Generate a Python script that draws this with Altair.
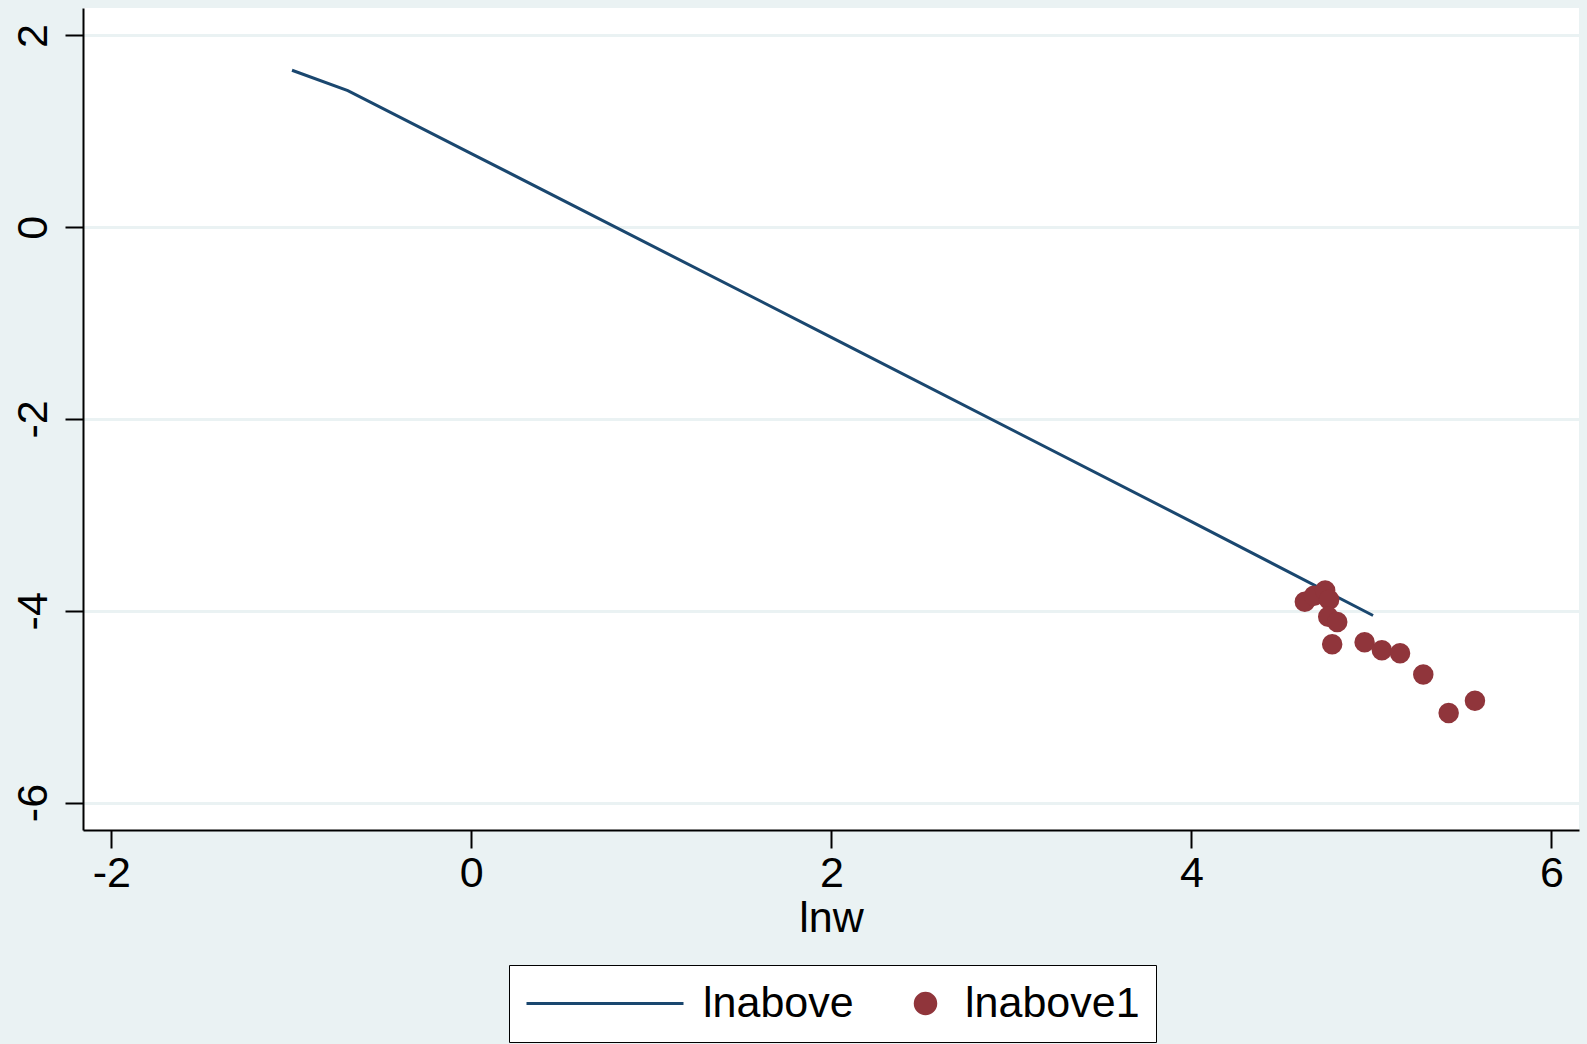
import altair as alt
import pandas as pd

# Fitted line (lnabove) and observed values (lnabove1) against lnw
line_lnw = [-0.996, -0.686, 0.0, 2.0, 4.0, 5.009]
line_vals = [1.637, 1.425, 0.768, -1.148, -3.07, -4.049]

pt_lnw = [4.630, 4.681, 4.743, 4.765, 4.760, 4.810, 4.782, 4.962, 5.058, 5.159, 5.288, 5.429, 5.575]
pt_vals = [-3.905, -3.842, -3.789, -3.884, -4.063, -4.116, -4.348, -4.327, -4.412, -4.443, -4.665, -5.066, -4.939]

series_names = ["lnabove", "lnabove1"]
series_colors = ["#1A476F", "#90353B"]
series_shapes = ["stroke", "circle"]
series_sizes = [24649, 420]

x_ticks = [-2, 0, 2, 4, 6]
y_ticks = [-6, -4, -2, 0, 2]

FONT = "Liberation Sans, Arial"
FS = 43
BG = "#EAF2F3"

# plain hyphen for negative tick labels
HYPHEN_LABEL = "datum.value < 0 ? '-' + abs(datum.value) : '' + datum.value"

df_line = pd.DataFrame({"lnw": line_lnw, "value": line_vals, "series": series_names[0]})
df_pts = pd.DataFrame({"lnw": pt_lnw, "value": pt_vals, "series": series_names[1]})

legend = alt.Legend(
    title=None,
    orient="none",
    legendX=426,
    legendY=957,
    direction="horizontal",
    fillColor="white",
    strokeColor="black",
    padding=16,
    clipHeight=45,
    symbolStrokeWidth=3,
    symbolOpacity=1,
    labelOffset=18,
    labelLimit=0,
    columnPadding=50,
    labelFont=FONT,
    labelFontSize=FS,
    labelColor="black",
)

stroke = alt.Stroke(
    "series:N",
    scale=alt.Scale(domain=series_names, range=series_colors),
    legend=legend,
)
fill = alt.Fill(
    "series:N",
    scale=alt.Scale(domain=series_names, range=series_colors),
    legend=legend,
)
shape = alt.Shape(
    "series:N",
    scale=alt.Scale(domain=series_names, range=series_shapes),
    legend=legend,
)
size = alt.Size(
    "series:O",
    scale=alt.Scale(domain=series_names, range=series_sizes),
    legend=legend,
)

x = alt.X(
    "lnw:Q",
    scale=alt.Scale(domain=[-2.157, 6.153], nice=False, zero=False),
    axis=alt.Axis(
        values=x_ticks,
        title="lnw",
        grid=False,
        tickSize=18,
        labelPadding=4,
        titlePadding=2,
        labelExpr=HYPHEN_LABEL,
    ),
)
y = alt.Y(
    "value:Q",
    scale=alt.Scale(domain=[-6.286, 2.286], nice=False, zero=False),
    axis=alt.Axis(
        values=y_ticks,
        title=None,
        grid=True,
        gridColor=BG,
        gridWidth=3,
        tickSize=18,
        labelAngle=270,
        labelAlign="center",
        labelBaseline="alphabetic",
        labelPadding=19,
        labelExpr=HYPHEN_LABEL,
    ),
)

line = alt.Chart(df_line).mark_line(strokeWidth=3).encode(x=x, y=y, stroke=stroke)
pts = (
    alt.Chart(df_pts)
    .mark_point(filled=True, opacity=1, strokeWidth=0)
    .encode(x=x, y=y, fill=fill, shape=shape, size=size)
)

chart = (
    alt.layer(line, pts)
    .properties(
        width=1496,
        height=822,
        autosize="none",
        padding={"left": 83, "top": 8, "right": 8, "bottom": 214},
        background=BG,
    )
    .configure_view(fill="white", stroke=None)
    .configure_axis(
        domainColor="black",
        domainWidth=2,
        tickColor="black",
        tickWidth=2,
        labelFont=FONT,
        labelFontSize=FS,
        labelColor="black",
        titleFont=FONT,
        titleFontSize=FS,
        titleFontWeight="normal",
        titleColor="black",
    )
)

chart.save("out.html", embed_options={"renderer": "svg", "actions": False})
